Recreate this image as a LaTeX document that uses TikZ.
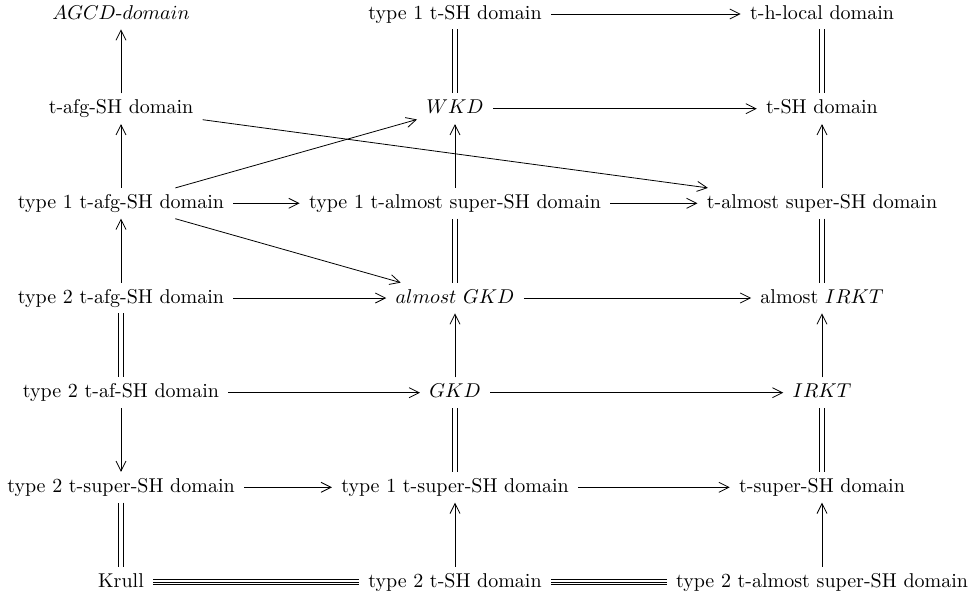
\documentclass[tikz,border=0pt]{standalone}
\usetikzlibrary{arrows.meta}
\begin{document}
\begin{tikzpicture}[x=0.5pt,y=-0.5pt,
 obj/.style={inner xsep=4.5pt, inner ysep=3pt, text height=7pt, text depth=2pt},
 ar/.style={-{Straight Barb[length=5pt,width=5pt]}, line width=0.4pt},
 eqv/.style={double, double distance=2pt, line width=0.4pt},
 eqvouter/.style={double, double distance=1.8pt, line width=0.4pt},
 eqvmid/.style={line width=0.4pt}]
\useasboundingbox (0,0) rectangle (972,594);
% row 1
\node[obj] (A1) at (121,14) {$AGCD$-$domain$};
\node[obj] (B1) at (455,14) {type 1 t-SH domain};
\node[obj] (C1) at (822,14) {t-h-local domain};
% row 2
\node[obj] (A2) at (121,108.7) {t-afg-SH domain};
\node[obj] (B2) at (455,108.7) {$WKD$};
\node[obj] (C2) at (822,108.7) {t-SH domain};
% row 3
\node[obj] (A3) at (121,203.3) {type 1 t-afg-SH domain};
\node[obj] (B3) at (455,203.3) {type 1 t-almost super-SH domain};
\node[obj] (C3) at (822,203.3) {t-almost super-SH domain};
% row 4
\node[obj] (A4) at (121,298) {type 2 t-afg-SH domain};
\node[obj] (B4) at (455,298) {$almost\ GKD$};
\node[obj] (C4) at (822,298) {almost $IRKT$};
% row 5
\node[obj] (A5) at (121,392.7) {type 2 t-af-SH domain};
\node[obj] (B5) at (455,392.7) {$GKD$};
\node[obj] (C5) at (822,392.7) {$IRKT$};
% row 6
\node[obj] (A6) at (121,487.3) {type 2 t-super-SH domain};
\node[obj] (B6) at (455,487.3) {type 1 t-super-SH domain};
\node[obj] (C6) at (822,487.3) {t-super-SH domain};
% row 7
\node[obj] (A7) at (121,582) {Krull};
\node[obj] (B7) at (455,582) {type 2 t-SH domain};
\node[obj] (C7) at (822,582) {type 2 t-almost super-SH domain};
% column A
\draw[ar] (A2) -- (A1);
\draw[ar] (A3) -- (A2);
\draw[ar] (A4) -- (A3);
\draw[eqv] (A4) -- (A5);
\draw[ar] (A5) -- (A6);
\draw[eqv] (A6) -- (A7);
% column B
\draw[eqv] (B1) -- (B2);
\draw[ar] (B3) -- (B2);
\draw[eqv] (B3) -- (B4);
\draw[ar] (B5) -- (B4);
\draw[eqv] (B5) -- (B6);
\draw[ar] (B7) -- (B6);
% column C
\draw[eqv] (C1) -- (C2);
\draw[ar] (C3) -- (C2);
\draw[eqv] (C3) -- (C4);
\draw[ar] (C5) -- (C4);
\draw[eqv] (C5) -- (C6);
\draw[ar] (C7) -- (C6);
% horizontals
\draw[ar] (B1) -- (C1);
\draw[ar] (B2) -- (C2);
\draw[ar] (A3) -- (B3);
\draw[ar] (B3) -- (C3);
\draw[ar] (A4) -- (B4);
\draw[ar] (B4) -- (C4);
\draw[ar] (A5) -- (B5);
\draw[ar] (B5) -- (C5);
\draw[ar] (A6) -- (B6);
\draw[ar] (B6) -- (C6);
% triple equivalences
\draw[eqvouter] (A7) -- (B7);
\draw[eqvmid] (A7) -- (B7);
\draw[eqvouter] (B7) -- (C7);
\draw[eqvmid] (B7) -- (C7);
% diagonals
\draw[ar] (A2) -- (C3);
\draw[ar] (A3) -- (B2);
\draw[ar] (A3) -- (B4);
\end{tikzpicture}
\end{document}
